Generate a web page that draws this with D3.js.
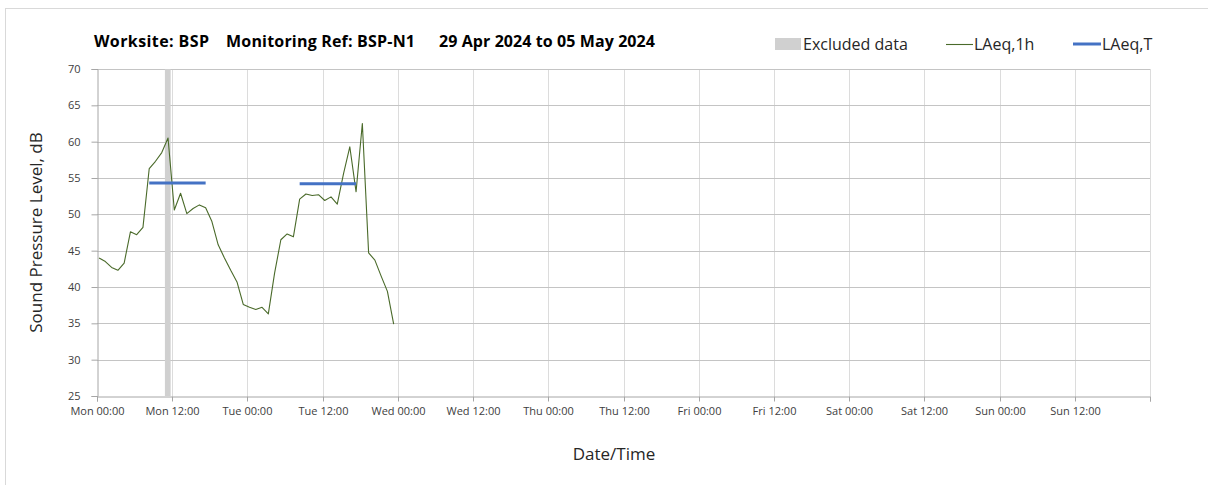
<!DOCTYPE html>
<html>
<head>
<meta charset="utf-8">
<script src="https://cdn.jsdelivr.net/npm/d3@7"></script>
<style>
  body { margin: 0; background: #fff; }
  svg { display: block; font-family: "Open Sans", "Noto Sans", sans-serif; }
</style>
</head>
<body>
<svg id="chart" width="1208" height="485"></svg>
<script>
// hourly LAeq,1h readings, Mon 29 Apr 00:20 onwards
const firstReading = new Date(2024, 3, 29, 0, 20)
const laeq1h = [44.0, 43.5, 42.7, 42.3, 43.3, 47.6, 47.2, 48.2,
                56.3, 57.3, 58.5, 60.5, 50.6, 52.9, 50.1, 50.8,
                51.3, 50.9, 49.0, 45.8, 44.0, 42.3, 40.7, 37.6,
                37.2, 36.9, 37.2, 36.3, 41.9, 46.5, 47.3, 46.9,
                52.1, 52.8, 52.6, 52.7, 51.9, 52.4, 51.4, 55.6,
                59.3, 53.1, 62.5, 44.7, 43.7, 41.5, 39.4, 34.9]

// LAeq,T over the daytime periods
const laeqT = [
  {from: new Date(2024, 3, 29, 8, 20), to: new Date(2024, 3, 29, 17, 20), value: 54.3},
  {from: new Date(2024, 3, 30, 8, 20), to: new Date(2024, 3, 30, 17, 20), value: 54.2}
]

const excluded = [
  {from: new Date(2024, 3, 29, 10, 50), to: new Date(2024, 3, 29, 11, 45)}
]

const yTicks = [25, 30, 35, 40, 45, 50, 55, 60, 65, 70]
const weekStart = new Date(2024, 3, 29), weekEnd = new Date(2024, 4, 6)

const svg = d3.select('#chart')
const L = 97, R = 1150, T = 69, B = 396

const x = d3.scaleTime().domain([weekStart, weekEnd]).range([L, R])
const y = d3.scaleLinear().domain([25, 70]).range([B, T])
const xTicks = d3.timeHour.every(12).range(weekStart, d3.timeHour.offset(weekEnd, 1))

// outer frame
svg.append('rect')
  .attr('x', 5.5).attr('y', 8.5).attr('width', 1210).attr('height', 490)
  .attr('fill', 'none').attr('stroke', '#d9d9d9')

// vertical grid
svg.append('g').selectAll('line')
  .data(xTicks.slice(1))
  .join('line')
    .attr('x1', d => Math.round(x(d)) + 0.5).attr('x2', d => Math.round(x(d)) + 0.5)
    .attr('y1', T).attr('y2', B)
    .attr('stroke', '#dcdcdc')

// horizontal grid
svg.append('g').selectAll('line')
  .data(yTicks.slice(1))
  .join('line')
    .attr('x1', L).attr('x2', R)
    .attr('y1', d => Math.round(y(d)) + 0.5).attr('y2', d => Math.round(y(d)) + 0.5)
    .attr('stroke', '#c4c4c4').attr('stroke-width', 1.2)

// excluded periods
svg.append('g').selectAll('rect')
  .data(excluded)
  .join('rect')
    .attr('x', d => x(d.from)).attr('width', d => x(d.to) - x(d.from))
    .attr('y', T).attr('height', B - T)
    .attr('fill', '#d0d0d0')

// axes
const yAxis = svg.append('g')
  .attr('transform', `translate(${L + 0.5},0)`)
  .call(d3.axisLeft(y).tickValues(yTicks).tickSize(6).tickPadding(11).tickFormat(d3.format('d')))
const xAxis = svg.append('g')
  .attr('transform', `translate(0,${B + 0.5})`)
  .call(d3.axisBottom(x).tickValues(xTicks).tickSize(5).tickPadding(6)
    .tickFormat((d, i) => i === xTicks.length - 1 ? '' : d3.timeFormat('%a %H:%M')(d)))

for (const ax of [xAxis, yAxis]) {
  ax.select('.domain').attr('stroke', '#a6a6a6')
  ax.selectAll('.tick line').attr('stroke', '#a6a6a6')
  ax.selectAll('.tick text').attr('fill', '#404040')
    .style('font-family', '"Open Sans", sans-serif').style('font-size', '11px')
}
xAxis.selectAll('.tick')
  .attr('transform', d => `translate(${Math.round(x(d)) + 0.5},0)`)

// LAeq,1h line
const pts = laeq1h.map((v, i) => [d3.timeHour.offset(firstReading, i), v])
svg.append('path')
  .datum(pts)
  .attr('fill', 'none')
  .attr('stroke', '#4a6a2a')
  .attr('stroke-width', 1.1)
  .attr('stroke-linejoin', 'round')
  .attr('d', d3.line().x(d => x(d[0])).y(d => y(d[1])))

// LAeq,T segments
svg.append('g').selectAll('line')
  .data(laeqT)
  .join('line')
    .attr('x1', d => x(d.from)).attr('x2', d => x(d.to))
    .attr('y1', d => y(d.value)).attr('y2', d => y(d.value))
    .attr('stroke', '#4472c4').attr('stroke-width', 3)

// title
const title = svg.append('text')
  .attr('y', 47)
  .attr('font-weight', 'bold').attr('font-size', 16).attr('fill', '#000')
title.append('tspan').attr('x', 94).attr('textLength', 115).text('Worksite: BSP')
title.append('tspan').attr('x', 226).attr('textLength', 189).text('Monitoring Ref: BSP-N1')
title.append('tspan').attr('x', 439).attr('textLength', 216).text('29 Apr 2024 to 05 May 2024')

// legend
const lg = svg.append('g').attr('font-size', 16).attr('fill', '#262626')
lg.append('rect').attr('x', 775).attr('y', 38).attr('width', 26).attr('height', 12).attr('fill', '#d0d0d0')
lg.append('text').attr('x', 803).attr('y', 50).text('Excluded data')
lg.append('line').attr('x1', 946).attr('x2', 973).attr('y1', 44.5).attr('y2', 44.5)
  .attr('stroke', '#4a6a2a').attr('stroke-width', 1.1)
lg.append('text').attr('x', 974).attr('y', 50).text('LAeq,1h')
lg.append('line').attr('x1', 1073).attr('x2', 1101).attr('y1', 44).attr('y2', 44)
  .attr('stroke', '#4472c4').attr('stroke-width', 3)
lg.append('text').attr('x', 1102).attr('y', 50).text('LAeq,T')

// axis titles
svg.append('text')
  .attr('transform', `translate(42,${(T + B) / 2}) rotate(-90)`)
  .attr('text-anchor', 'middle').attr('font-size', 17).attr('fill', '#262626')
  .text('Sound Pressure Level, dB')
svg.append('text')
  .attr('x', 614).attr('y', 460)
  .attr('text-anchor', 'middle').attr('font-size', 17).attr('fill', '#262626')
  .text('Date/Time')
</script>
</body>
</html>
